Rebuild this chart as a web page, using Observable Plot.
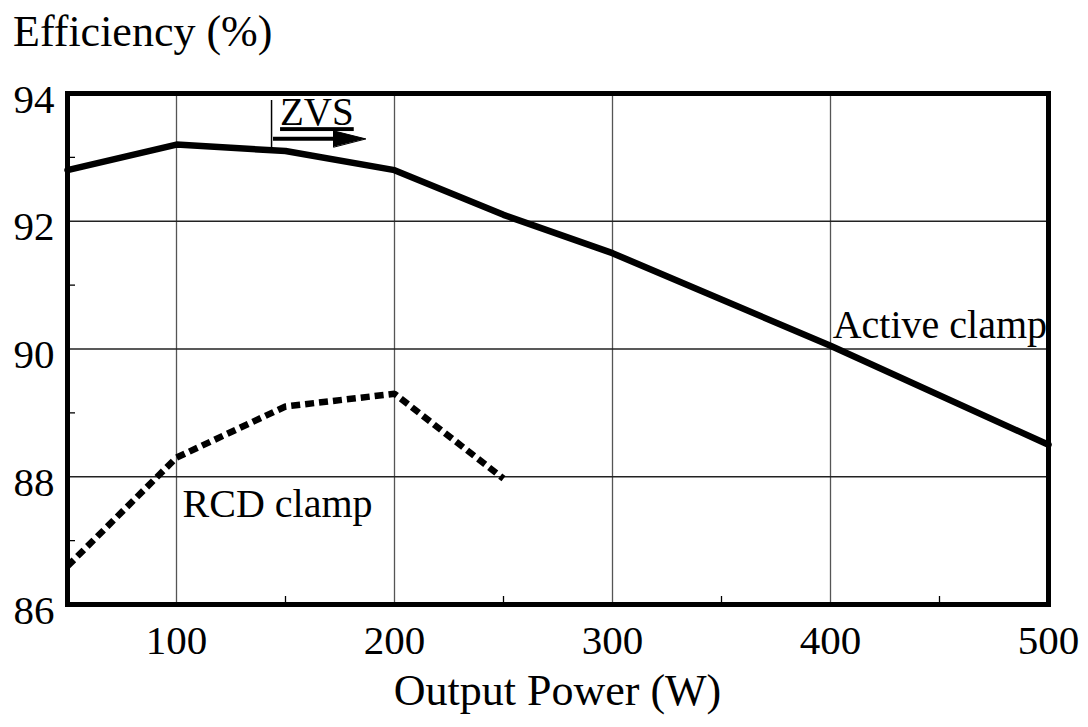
<!DOCTYPE html>
<html>
<head>
<meta charset="utf-8">
<script src="https://cdn.jsdelivr.net/npm/d3@7"></script>
<script src="https://cdn.jsdelivr.net/npm/@observablehq/plot@0.6"></script>
<style>
  html, body { margin: 0; padding: 0; background: white; }
  body { width: 1088px; height: 727px; overflow: hidden; font-family: "Liberation Serif", serif; color: black; }
  #title { height: 70px; box-sizing: border-box; padding: 10px 0 0 13px; font-size: 44px; line-height: 1; }
  #xlabel { box-sizing: border-box; padding: 9px 40px 0 67px; text-align: center; font-size: 44px; line-height: 1; }
  svg { display: block; }
</style>
</head>
<body>
<div id="title">Efficiency (%)</div>
<div id="chart"></div>
<div id="xlabel">Output Power (W)</div>
<script>
// Data
const power = [50, 100, 150, 200, 250, 300, 400, 500];
const activeClamp = [92.8, 93.2, 93.1, 92.8, 92.1, 91.5, 90.05, 88.5];
const rcdPower = [50, 100, 150, 200, 250];
const rcdClamp = [86.6, 88.3, 89.1, 89.3, 87.97];

const xTicks = [100, 200, 300, 400, 500];
const yTicks = [86, 88, 90, 92, 94];
const xMinor = [150, 250, 350, 450];
const yMinor = [87, 89, 91, 93];
const xGrid = [100, 200, 300, 400];
const yGrid = [88, 90, 92];

const seriesLabels = [
  {text: "Active clamp", x: 401, y: 90.38},
  {text: "RCD clamp", x: 102.8, y: 87.57}
];
// ZVS annotation
const zvsLabel = [{text: "ZVS", x: 147.5, y: 93.70}];
const zvsBar = [{x: 143.6, y1: 93.15, y2: 93.89}];
const zvsArrow = [{x1: 144.5, x2: 180, xTip: 186.7, y: 93.29}];

const activeData = power.map((p, i) => ({x: p, y: activeClamp[i]}));
const rcdData = rcdPower.map((p, i) => ({x: p, y: rcdClamp[i]}));

const triangle = {
  draw(context, l) {
    context.moveTo(0, -l);
    context.lineTo(-8, 0);
    context.lineTo(8, 0);
    context.closePath();
  }
};

const chart = Plot.plot({
  width: 1088,
  height: 590,
  marginTop: 23,
  marginBottom: 56,
  marginLeft: 67,
  marginRight: 40,
  style: {fontFamily: "Liberation Serif", fontSize: "40px", color: "black", background: "white", overflow: "visible"},
  x: {domain: [50, 500]},
  y: {domain: [86, 94]},
  marks: [
    Plot.ruleX(xGrid, {stroke: "#555", strokeWidth: 1.3}),
    Plot.ruleY(yGrid, {stroke: "#222", strokeWidth: 1.3}),
    Plot.axisX(xMinor, {anchor: "bottom", tickSize: 8, dy: -8, tickFormat: () => "", strokeWidth: 1.3, label: null}),
    Plot.axisY(yMinor, {anchor: "left", tickSize: 8, dx: 8, tickFormat: () => "", strokeWidth: 1.3, label: null}),
    Plot.axisX(xTicks, {anchor: "bottom", tickSize: 0, tickPadding: 20, tickFormat: d3.format("d"), fontSize: 41, label: null}),
    Plot.axisY(yTicks, {anchor: "left", tickSize: 0, tickPadding: 13, dy: 6, tickFormat: d3.format("d"), fontSize: 41, label: null}),
    Plot.line(rcdData, {x: "x", y: "y", stroke: "black", strokeWidth: 6.5, strokeDasharray: "9,5", strokeLinecap: "butt", strokeLinejoin: "miter"}),
    Plot.line(activeData, {x: "x", y: "y", stroke: "black", strokeWidth: 6.5, strokeLinejoin: "round"}),
    Plot.text(seriesLabels, {x: "x", y: "y", text: "text", textAnchor: "start", lineAnchor: "middle", fill: "black"}),
    Plot.text(zvsLabel, {x: "x", y: "y", text: "text", textAnchor: "start", lineAnchor: "middle", fill: "black", fontSize: 39}),
    Plot.ruleX(zvsBar, {x: "x", y1: "y1", y2: "y2", stroke: "black", strokeWidth: 1.5}),
    Plot.ruleY(zvsArrow, {x1: "x1", x2: "x2", y: "y", stroke: "black", strokeWidth: 4}),
    Plot.vector(zvsArrow, {x: "xTip", y: "y", rotate: 90, length: 32, anchor: "end", shape: triangle, fill: "black", stroke: "black", strokeWidth: 1}),
    Plot.frame({stroke: "black", strokeWidth: 5})
  ]
});
document.getElementById("chart").appendChild(chart);
d3.select(chart).selectAll("text").filter(function() { return this.textContent === "ZVS"; })
  .style("text-decoration", "underline");
</script>
</body>
</html>
